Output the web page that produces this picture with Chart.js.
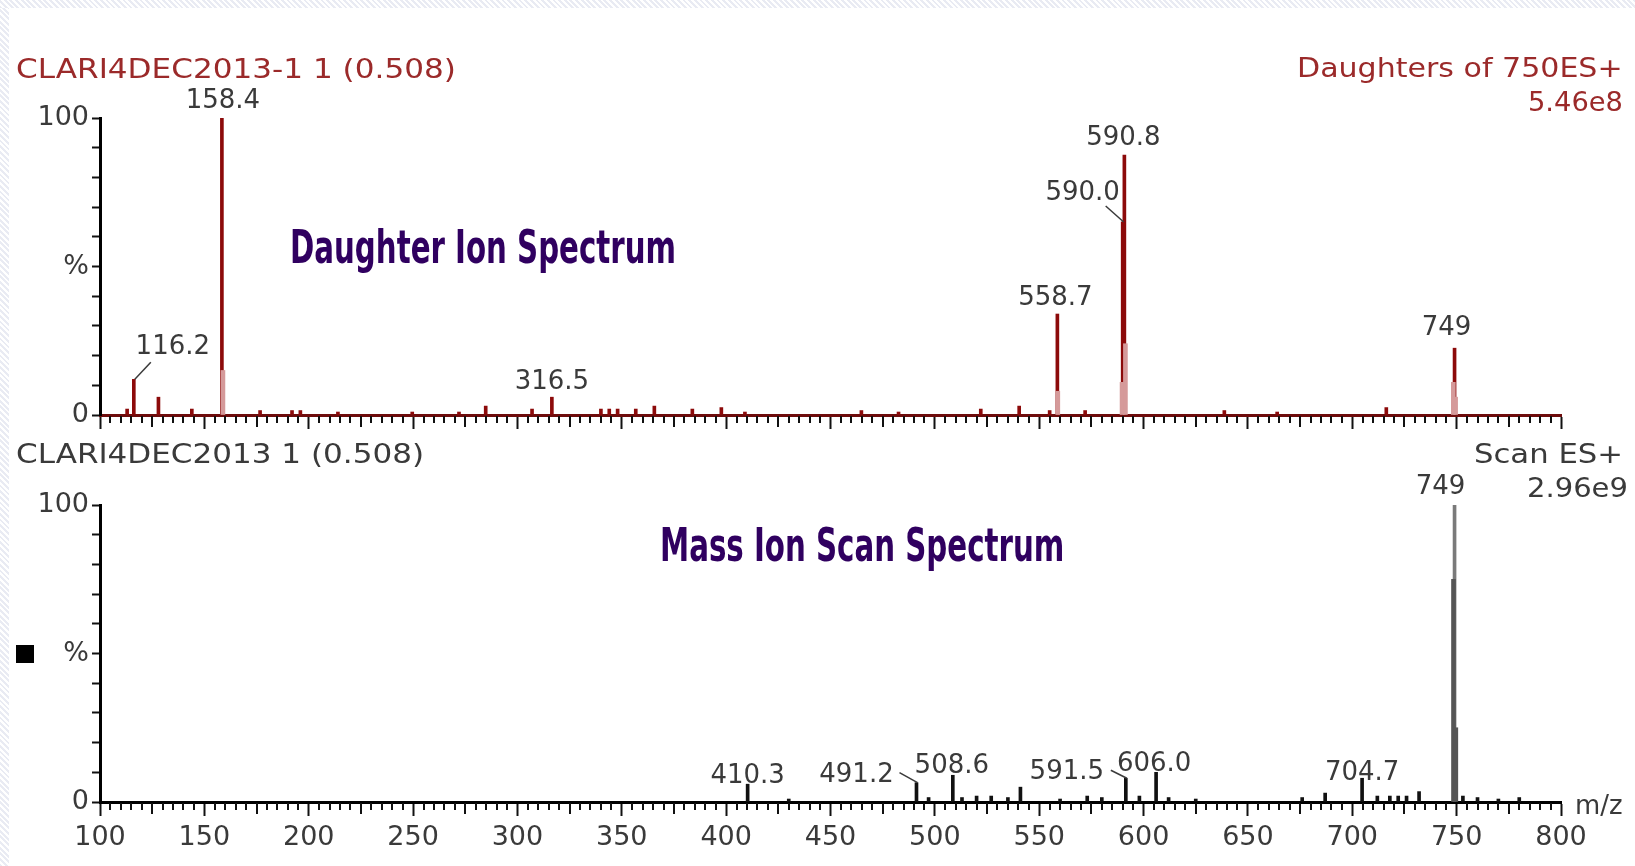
<!DOCTYPE html>
<html>
<head>
<meta charset="utf-8">
<script src="https://cdn.jsdelivr.net/npm/chart.js@4.4.1/dist/chart.umd.min.js"></script>
<style>
  html, body { margin: 0; padding: 0; background: #fff; }
  #page { position: relative; width: 1635px; height: 866px; overflow: hidden; background: #fff; }
  #page:before { content: ''; position: absolute; left: 0; top: 0; width: 9px; height: 866px;
    background: repeating-linear-gradient(45deg, #e9ebf3 0 2px, #fff 2px 4px); }
  #page:after { content: ''; position: absolute; left: 0; top: 0; width: 1635px; height: 8px;
    background: repeating-linear-gradient(45deg, #e9ebf3 0 2px, #fff 2px 4px); }
  canvas { position: absolute; left: 0; }
  .txt { position: absolute; white-space: nowrap; font-family: "DejaVu Sans", sans-serif;
    font-size: 27px; line-height: 27px; color: #3a3a3a; }
  .red { color: #9b2a2a; }
  .hand { font-family: "Liberation Sans Narrow", "DejaVu Sans Condensed", sans-serif; font-size: 46px;
    line-height: 46px; color: #300060; font-weight: bold; }
</style>
</head>
<body>
<div id="page">
  <canvas id="topChart" style="top:0" width="1635" height="440"></canvas>
  <canvas id="botChart" style="top:440px" width="1635" height="426"></canvas>

  <div class="txt red" data-l="16" data-w="440" data-y="68">CLARI4DEC2013-1 1 (0.508)</div>
  <div class="txt red" data-r="1623" data-w="326" data-y="67">Daughters of 750ES+</div>
  <div class="txt red" data-r="1623" data-w="95" data-y="101">5.46e8</div>
  <div class="txt" data-l="16" data-w="408" data-y="453">CLARI4DEC2013 1 (0.508)</div>
  <div class="txt" data-r="1623" data-w="149" data-y="453">Scan ES+</div>
  <div class="txt" data-r="1628" data-w="101" data-y="487">2.96e9</div>
  <div class="txt" data-l="1575" data-w="48" data-y="804">m/z</div>
  <div class="txt hand" data-l="290" data-w="386" data-y="247">Daughter Ion Spectrum</div>
  <div class="txt hand" data-l="660" data-w="404" data-y="545">Mass Ion Scan Spectrum</div>
  <div style="position:absolute; left:16px; top:645px; width:18px; height:18px; background:#000"></div>
</div>

<script>
// Daughter ion spectrum (m/z, % intensity)
const topMz  = [113, 116.2, 128, 144, 158.4, 176.7, 192, 196, 214, 249.6, 272, 284.8, 307, 316.5,
                340, 344, 348, 356.7, 365.6, 383.8, 397.7, 409, 464.8, 482.6, 522, 540.4, 555,
                558.7, 572, 590.0, 590.8, 638.7, 664, 716.3, 749];
const topInt = [2, 12, 6, 2, 100, 1.5, 1.5, 1.5, 1, 1, 1, 3, 2, 6,
                2, 2, 2, 2, 3, 2, 2.5, 1, 1.5, 1, 2, 3, 1.5,
                34, 1.5, 65, 87.5, 1.5, 1, 2.5, 22.5];
// profile shoulders drawn lighter
const topShoulderMz  = [158.9, 558.9, 589.7, 591.3, 748.4, 749.5];
const topShoulderInt = [15, 8, 11, 24, 11, 6];
const topLabels = [116.2, 158.4, 316.5, 558.7, 590.0, 590.8, 749];
const topLabelText = ['116.2', '158.4', '316.5', '558.7', '590.0', '590.8', '749'];

// Mass ion scan spectrum
const botMz  = [410.3, 430, 491.2, 497, 508.6, 513, 520, 527, 535, 541, 560, 573, 580, 591.5,
                598, 606.0, 612, 625, 676, 687, 704.7, 712, 718, 722, 726, 732, 749, 753, 760, 770, 780];
const botInt = [6, 1, 6.5, 1.5, 9, 1.5, 2, 2, 1.5, 5, 1, 2, 1.5, 8,
                2, 10, 1.5, 1, 1.5, 3, 8, 2, 2, 2, 2, 3.5, 100, 2, 1.5, 1, 1.5];
const botShoulderMz  = [748.5, 749.6];
const botShoulderInt = [75, 25];
const botLabels = [410.3, 491.2, 508.6, 591.5, 606.0, 704.7, 749];
const botLabelText = ['410.3', '491.2', '508.6', '591.5', '606.0', '704.7', '749'];

const xTicks = [100, 150, 200, 250, 300, 350, 400, 450, 500, 550, 600, 650, 700, 750, 800];

const pts = (xs, ys) => xs.map((v, i) => ({x: v, y: ys[i]}));

// label placement: [dx, dy, leader end dx, leader end dy]
const topOffsets = [[39, -32, 17, -17], [1, -17], [0, -15], [-2, -16], [-40, -29, -17, -16], [-1, -17], [-8, -20]];
const botOffsets = [[0, -8], [-60, -7, -17, -10], [-1, -9], [-59, -6, -15, -8], [-2, -8], [0, -5], [-14, -18]];

const minorTicks = {
  id: 'minorTicks',
  afterDraw(chart) {
    const sx = chart.scales.x, c = chart.ctx, y0 = chart.chartArea.bottom + 1;
    c.save();
    c.strokeStyle = '#111';
    c.lineWidth = 2;
    for (let v = 105; v < 800; v += 5) {
      if (v % 50 === 0) continue;
      const len = v % 25 === 0 ? 11 : 7;
      const px = Math.round(sx.getPixelForValue(v));
      c.beginPath(); c.moveTo(px, y0); c.lineTo(px, y0 + len); c.stroke();
    }
    c.restore();
  }
};

const peakLabels = {
  id: 'peakLabels',
  afterDatasetsDraw(chart, args, opts) {
    const sx = chart.scales.x, sy = chart.scales.y, c = chart.ctx;
    c.save();
    c.font = '26px "DejaVu Sans"';
    c.fillStyle = '#3a3a3a';
    c.strokeStyle = '#3a3a3a';
    c.lineWidth = 1.5;
    c.textAlign = 'center';
    c.textBaseline = 'middle';
    opts.mz.forEach((m, i) => {
      const h = opts.ys[opts.xs.indexOf(m)];
      const px = sx.getPixelForValue(m), py = sy.getPixelForValue(h);
      const o = opts.offsets[i];
      c.fillText(opts.text[i], px + o[0], py + o[1]);
      if (o.length > 2) {
        c.beginPath(); c.moveTo(px + 1, py); c.lineTo(px + o[2], py + o[3]); c.stroke();
      }
    });
    c.restore();
  }
};

function makeChart(id, cfg) {
  const ctx = document.getElementById(id).getContext('2d');
  return new Chart(ctx, {
    type: 'bar',
    data: {
      datasets: [{
        data: pts(cfg.shMz, cfg.shInt),
        backgroundColor: cfg.light,
        barThickness: 4,
        grouped: false
      }, {
        data: pts(cfg.mz, cfg.int),
        backgroundColor: cfg.dark,
        barThickness: 3,
        grouped: false
      }]
    },
    options: {
      responsive: false,
      animation: false,
      layout: { padding: { left: 0, right: 74, top: cfg.top, bottom: 0 } },
      plugins: {
        legend: { display: false },
        tooltip: { enabled: false },
        peakLabels: { xs: cfg.mz, ys: cfg.int, mz: cfg.labels, text: cfg.text, offsets: cfg.offsets }
      },
      scales: {
        x: {
          type: 'linear', min: 100, max: 800, offset: false,
          afterBuildTicks: s => { s.ticks = xTicks.map(v => ({value: v})); },
          afterFit: s => { s.height = cfg.xh; },
          border: { display: true, color: cfg.axis, width: 3 },
          grid: { drawOnChartArea: false, drawTicks: true, tickLength: 14, tickWidth: 2, tickColor: '#111', offset: false },
          ticks: {
            display: cfg.xlabels, padding: 6, maxRotation: 0, autoSkip: false,
            color: '#3a3a3a', font: { family: 'DejaVu Sans', size: 27 }
          }
        },
        y: {
          min: 0, max: 100,
          afterFit: s => { s.width = 100; },
          border: { display: true, color: '#000', width: 3 },
          grid: { drawOnChartArea: false, tickLength: 8, tickWidth: 2, tickColor: '#111' },
          ticks: {
            stepSize: 10, padding: 3, autoSkip: false, color: '#3a3a3a', font: { family: 'DejaVu Sans', size: 27 },
            callback: v => v === 100 ? '100' : v === 50 ? '%' : v === 0 ? '0' : ''
          }
        }
      }
    },
    plugins: [minorTicks, peakLabels]
  });
}

makeChart('topChart', {
  mz: topMz, int: topInt, shMz: topShoulderMz, shInt: topShoulderInt,
  labels: topLabels, text: topLabelText, offsets: topOffsets,
  dark: '#8c0a0a', light: '#d59a9a', axis: '#6e0c0c', top: 118, xh: 25, xlabels: false
});
makeChart('botChart', {
  mz: botMz, int: botInt, shMz: botShoulderMz, shInt: botShoulderInt,
  labels: botLabels, text: botLabelText, offsets: botOffsets,
  dark: ctx => (ctx.raw && ctx.raw.y > 50 ? '#7a7a7a' : '#111'), light: '#555', axis: '#000', top: 65, xh: 64, xlabels: true
});

// stretch header texts to their widths in the picture
document.querySelectorAll('.txt').forEach(el => {
  const w = el.offsetWidth, h = el.offsetHeight;
  const k = (+el.dataset.w) / w;
  el.style.top = (+el.dataset.y - h / 2) + 'px';
  if (el.dataset.l) {
    el.style.left = el.dataset.l + 'px';
    el.style.transformOrigin = 'left center';
  } else {
    el.style.left = (+el.dataset.r - w) + 'px';
    el.style.transformOrigin = 'right center';
  }
  el.style.transform = 'scaleX(' + k + ')';
});
</script>
</body>
</html>
